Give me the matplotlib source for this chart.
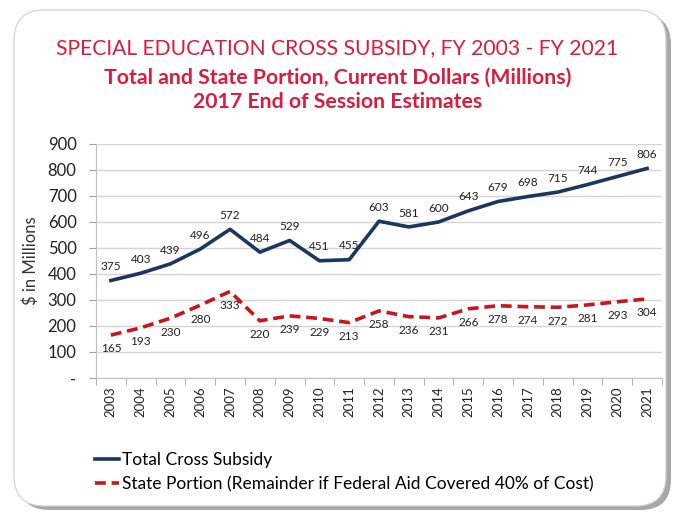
import matplotlib.pyplot as plt
import numpy as np
from matplotlib.patches import FancyBboxPatch

years = [str(y) for y in range(2003, 2022)]
total = [375, 403, 439, 496, 572, 484, 529, 451, 455, 603, 581, 600, 643, 679, 698, 715, 744, 775, 806]
state = [165, 193, 230, 280, 333, 220, 239, 229, 213, 258, 236, 231, 266, 278, 274, 272, 281, 293, 304]
yticks = [0, 100, 200, 300, 400, 500, 600, 700, 800, 900]
ytick_labels = ['-'] + [str(v) for v in yticks[1:]]

plt.rcParams['font.family'] = ['Lato', 'DejaVu Sans']

W, H = 675, 512
fig = plt.figure(figsize=(W / 100, H / 100), dpi=100)
fig.patch.set_facecolor('white')

# card with shadow
shadow = FancyBboxPatch((19 / W, 2 / H), 652 / W, 496 / H,
                        boxstyle='round,pad=0,rounding_size=0.045',
                        transform=fig.transFigure, facecolor='#a8a8a8',
                        edgecolor='none', zorder=0, mutation_aspect=W / H)
fig.patches.append(shadow)
card = FancyBboxPatch((14 / W, 6 / H), 652 / W, 496 / H,
                      boxstyle='round,pad=0,rounding_size=0.045',
                      transform=fig.transFigure, facecolor='white',
                      edgecolor='#d0d0d0', linewidth=0.8, zorder=1,
                      mutation_aspect=W / H)
fig.patches.append(card)

red = '#d81e3c'
fig.text(0.5, 1 - 48 / H, 'SPECIAL EDUCATION CROSS SUBSIDY, FY 2003 - FY 2021',
         ha='center', va='center', color=red, fontsize=15.2)
fig.text(0.5, 1 - 78 / H, 'Total and State Portion, Current Dollars (Millions)',
         ha='center', va='center', color=red, fontsize=15.3, fontweight='bold')
fig.text(0.5, 1 - 102 / H, '2017 End of Session Estimates',
         ha='center', va='center', color=red, fontsize=15.3, fontweight='bold')

ax = fig.add_axes([96 / W, 1 - 378 / H, 566 / W, 234 / H])
ax.set_zorder(2)
ax.patch.set_alpha(0)

x = np.arange(len(years))
navy = '#1b365f'
dred = '#c8161d'
ax.plot(x, total, color=navy, linewidth=2.6, label='Total Cross Subsidy', zorder=3)
ax.plot(x, state, color=dred, linewidth=2.6, dashes=(3, 1.6),
        label='State Portion (Remainder if Federal Aid Covered 40% of Cost)', zorder=3)

for xi, v in zip(x, total):
    ax.annotate(str(v), (xi, v), xytext=(0, 6), textcoords='offset points',
                ha='center', va='bottom', fontsize=8.5, color='#222222')
for xi, v in zip(x, state):
    ax.annotate(str(v), (xi, v), xytext=(0, -6), textcoords='offset points',
                ha='center', va='top', fontsize=8.5, color='#222222')

ax.set_xlim(-0.5, len(years) - 0.5)
ax.set_ylim(0, 900)
ax.set_yticks(yticks)
ax.set_yticklabels(ytick_labels, fontsize=12, color='#222222')
ax.set_xticks(x)
ax.set_xticklabels(years, rotation=90, fontsize=9.5, color='#222222')
ax.set_xticks(np.arange(-0.5, len(years)), minor=True)
ax.tick_params(axis='x', which='major', length=0, pad=6)
ax.tick_params(axis='x', which='minor', length=5, color='#a0a0a0')
ax.tick_params(axis='y', length=5, color='#a0a0a0', pad=9)
ax.grid(axis='y', color='#d4d4d4', linewidth=1)
for s in ['top', 'right']:
    ax.spines[s].set_visible(False)
for s in ['left', 'bottom']:
    ax.spines[s].set_color('#c0c0c0')
ax.set_axisbelow(True)
ax.set_ylabel('$ in Millions', fontsize=12, color='#333333', labelpad=6)

ax.legend(loc='upper left', bbox_to_anchor=(-0.03, -0.25), frameon=False,
          fontsize=12.5, handlelength=1.4, handletextpad=0.15, labelspacing=0.45)

fig.savefig('out.png', dpi=100)
